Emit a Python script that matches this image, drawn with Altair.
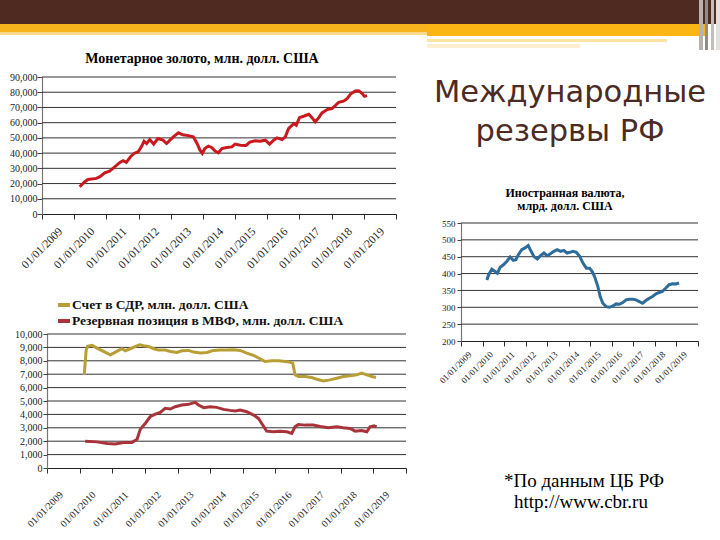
import altair as alt
import pandas as pd

SERIF = "Liberation Serif"
YEARS = [2009, 2010, 2011, 2012, 2013, 2014, 2015, 2016, 2017, 2018, 2019, 2020]

# --- Монетарное золото, млн. долл. США ---
GOLD_T = [2010.17, 2010.33, 2010.43, 2010.69, 2010.80, 2010.95, 2011.10, 2011.26, 2011.42, 2011.52,
          2011.62, 2011.75, 2011.86, 2011.99, 2012.10, 2012.17, 2012.25, 2012.35, 2012.47, 2012.60,
          2012.76, 2012.87, 2013.00, 2013.08, 2013.24, 2013.37, 2013.55, 2013.70, 2013.81, 2013.91,
          2013.98, 2014.06, 2014.17, 2014.27, 2014.38, 2014.48, 2014.59, 2014.74, 2014.90, 2015.00,
          2015.16, 2015.34, 2015.46, 2015.62, 2015.78, 2015.94, 2016.07, 2016.20, 2016.30, 2016.46,
          2016.56, 2016.66, 2016.82, 2016.90, 2017.00, 2017.13, 2017.29, 2017.39, 2017.49, 2017.60,
          2017.70, 2017.86, 2018.01, 2018.12, 2018.22, 2018.37, 2018.48, 2018.60, 2018.74, 2018.84,
          2018.95, 2019.02, 2019.10]
GOLD_V = [17900, 21200, 22700, 23400, 24500, 27100, 28200, 31000, 33900, 35000,
          33900, 37600, 39800, 40900, 44600, 47800, 46300, 48900, 45900, 49600,
          48500, 46300, 49000, 50700, 53300, 52000, 51500, 50700, 46700, 41900,
          39800, 43000, 44600, 43700, 41300, 40200, 43000, 43700, 44100, 45900,
          45200, 45000, 47200, 48100, 47800, 48500, 45900, 48500, 50000, 48900,
          50700, 56100, 59400, 58300, 63300, 64200, 65500, 63300, 60500, 63300,
          66400, 68600, 69300, 71400, 73400, 74100, 75800, 79100, 80800, 81000,
          79100, 77300, 77800]
GOLD_TICKS = [0, 10000, 20000, 30000, 40000, 50000, 60000, 70000, 80000, 90000]

# --- Иностранная валюта, млрд. долл. США ---
FX_T = [2010.20, 2010.28, 2010.43, 2010.58, 2010.69, 2010.82, 2010.97, 2011.12, 2011.28, 2011.43,
        2011.55, 2011.66, 2011.82, 2011.97, 2012.12, 2012.23, 2012.38, 2012.54, 2012.69, 2012.85,
        2013.00, 2013.15, 2013.31, 2013.46, 2013.62, 2013.77, 2013.92, 2014.05, 2014.20, 2014.35,
        2014.51, 2014.66, 2014.82, 2014.97, 2015.09, 2015.20, 2015.35, 2015.46, 2015.58, 2015.74,
        2015.89, 2016.05, 2016.20, 2016.35, 2016.51, 2016.66, 2016.82, 2016.97, 2017.12, 2017.28,
        2017.43, 2017.58, 2017.74, 2017.89, 2018.05, 2018.20, 2018.35, 2018.51, 2018.66, 2018.82,
        2018.97, 2019.12]
FX_V = [381, 396, 413, 406, 401, 419, 426, 436, 449, 439,
        441, 456, 471, 476, 483, 469, 451, 443, 453, 461,
        453, 459, 466, 471, 466, 469, 461, 463, 466, 463,
        451, 431, 416, 416, 406, 391, 362, 332, 312, 302,
        300, 304, 310, 309, 314, 322, 324, 324, 322, 317,
        312, 320, 327, 332, 340, 344, 347, 357, 367, 370,
        369, 372]
FX_TICKS = [200, 250, 300, 350, 400, 450, 500, 550]

# --- Счет в СДР / Резервная позиция в МВФ, млн. долл. США ---
SERIES = ["Счет в СДР, млн. долл. США", "Резервная позиция в МВФ, млн. долл. США"]
SDR_T = [2010.14, 2010.20, 2010.24, 2010.38, 2010.53, 2010.73, 2010.94, 2011.04, 2011.19, 2011.30,
         2011.40, 2011.55, 2011.70, 2011.84, 2011.96, 2012.11, 2012.27, 2012.42, 2012.62, 2012.78,
         2012.98, 2013.13, 2013.34, 2013.49, 2013.69, 2013.90, 2014.10, 2014.31, 2014.51, 2014.71,
         2014.92, 2015.12, 2015.33, 2015.53, 2015.68, 2015.89, 2016.09, 2016.30, 2016.43, 2016.53,
         2016.60, 2016.70, 2016.91, 2017.11, 2017.27, 2017.47, 2017.67, 2017.88, 2018.08, 2018.29,
         2018.49, 2018.64, 2018.80, 2018.95, 2019.08]
SDR_V = [6950, 8800, 9075, 9150, 8950, 8700, 8450, 8575, 8775, 8900,
         8750, 8900, 9050, 9200, 9125, 9075, 8900, 8800, 8800, 8700,
         8625, 8750, 8775, 8650, 8575, 8625, 8775, 8800, 8800, 8825,
         8775, 8575, 8400, 8150, 7950, 8000, 8000, 7950, 7900, 7825,
         6950, 6825, 6825, 6750, 6625, 6500, 6575, 6700, 6825, 6875,
         6950, 7075, 6950, 6825, 6750]
IMF_T = [2010.17, 2010.53, 2010.84, 2011.09, 2011.35, 2011.60, 2011.76, 2011.86, 2012.01, 2012.16,
         2012.32, 2012.47, 2012.62, 2012.78, 2012.93, 2013.13, 2013.34, 2013.54, 2013.64, 2013.80,
         2014.00, 2014.20, 2014.41, 2014.61, 2014.77, 2014.92, 2015.12, 2015.33, 2015.48, 2015.58,
         2015.73, 2015.94, 2016.14, 2016.35, 2016.50, 2016.60, 2016.70, 2016.91, 2017.16, 2017.37,
         2017.62, 2017.88, 2018.08, 2018.29, 2018.44, 2018.64, 2018.80, 2018.90, 2019.02, 2019.10]
IMF_V = [2000, 1950, 1825, 1800, 1900, 1900, 2150, 2900, 3325, 3825,
         4025, 4150, 4450, 4400, 4575, 4700, 4750, 4900, 4700, 4500,
         4575, 4525, 4375, 4300, 4250, 4325, 4200, 3950, 3700, 3325,
         2750, 2700, 2750, 2700, 2575, 3075, 3250, 3200, 3200, 3100,
         3000, 3075, 3000, 2950, 2750, 2800, 2700, 3075, 3150, 3075]
SDR_TICKS = [0, 1000, 2000, 3000, 4000, 5000, 6000, 7000, 8000, 9000, 10000]

TITLE_1 = "Монетарное золото, млн. долл. США"
TITLE_2 = ["Иностранная валюта,", "млрд. долл. США"]
HEADING = ["Международные", "резервы РФ"]
NOTE = ["*По данным ЦБ РФ", "http://www.cbr.ru"]

LABEL_EXPR = "datum.value >= 2020 ? '' : '01/01/' + datum.value"
dummy = pd.DataFrame({"d": [0]})


def x_axis(offset, size, pad, loff):
    return alt.Axis(orient="bottom", offset=offset, values=YEARS, labelExpr=LABEL_EXPR,
                    labelAngle=-45, labelAlign="center", labelBaseline="middle",
                    labelPadding=pad, labelOffset=loff, labelFont=SERIF, labelFontSize=size,
                    labelColor="#222", tickSize=5, tickColor="#333", domainColor="#222",
                    grid=False, title=None, labelOverlap=False, labelFlush=False, labelBound=False)


def y_axis(offset, values, size, fmt, pad, tsize):
    return alt.Axis(orient="left", offset=offset, values=values, format=fmt,
                    labelFont=SERIF, labelFontSize=size, labelColor="#222", labelPadding=pad,
                    tickSize=tsize, tickColor="#444", domainColor="#777", domainWidth=1.2,
                    grid=False, title=None, labelOverlap=False, labelFlush=False, labelBound=False)


def panel(xr, yr, ydom, ticks, xax, yax, line_layers):
    xs = alt.Scale(domain=[2009, 2020], range=xr, nice=False, zero=False)
    ys = alt.Scale(domain=ydom, range=yr, nice=False, zero=False)
    grid = alt.Chart(pd.DataFrame({"v": ticks[1:]})).mark_rule(color="#333333", strokeWidth=1).encode(
        y=alt.Y("v:Q", scale=ys, axis=yax),
        x=alt.XDatum(2009, type="quantitative", scale=xs, axis=xax),
        x2=alt.X2Datum(2020),
    )
    lines = [f(xs, ys, xax, yax) for f in line_layers]
    return alt.layer(grid, *lines)


# Chart 1
gold_df = pd.DataFrame({"t": GOLD_T, "v": GOLD_V})
def gold_line(xs, ys, xax, yax):
    return alt.Chart(gold_df).mark_line(color="#c9191f", strokeWidth=3).encode(
        x=alt.X("t:Q", scale=xs, axis=xax), y=alt.Y("v:Q", scale=ys, axis=yax))

c1 = panel([42, 396], [214, 77], [0, 90000], GOLD_TICKS,
           x_axis(-326, 11.5, 29, 0), y_axis(-42, GOLD_TICKS, 10, ",.0f", 0, 5), [gold_line])

# Chart 2
fx_df = pd.DataFrame({"t": FX_T, "v": FX_V})
def fx_line(xs, ys, xax, yax):
    return alt.Chart(fx_df).mark_line(color="#2d6c9b", strokeWidth=3).encode(
        x=alt.X("t:Q", scale=xs, axis=xax), y=alt.Y("v:Q", scale=ys, axis=yax))

c2 = panel([461, 698], [341, 223], [200, 550], FX_TICKS,
           x_axis(-199, 9, 21, -6), y_axis(-461, FX_TICKS, 9, "d", 2, 4), [fx_line])

# Chart 3
sdr_df = pd.concat([
    pd.DataFrame({"t": SDR_T, "v": SDR_V, "s": SERIES[0]}),
    pd.DataFrame({"t": IMF_T, "v": IMF_V, "s": SERIES[1]}),
])
def sdr_lines(xs, ys, xax, yax):
    return alt.Chart(sdr_df).mark_line(strokeWidth=3).encode(
        x=alt.X("t:Q", scale=xs, axis=xax), y=alt.Y("v:Q", scale=ys, axis=yax),
        color=alt.Color("s:N", scale=alt.Scale(domain=SERIES, range=["#b89f35", "#a8333b"]),
                        legend=alt.Legend(orient="none", legendX=56, legendY=297, title=None,
                                          symbolType="stroke", symbolSize=144, symbolStrokeWidth=4,
                                          labelFont=SERIF, labelFontSize=13.5, labelFontWeight="bold",
                                          labelColor="#111", labelOffset=0, rowPadding=-3, padding=0,
                                          labelLimit=0)),
        detail="s:N")

c3 = panel([47, 406], [468, 334], [0, 10000], SDR_TICKS,
           x_axis(-72, 10, 36, -2), y_axis(-47, SDR_TICKS, 10, ",.0f", 1, 4), [sdr_lines])


def rect(x0, x1, y0, y1, color):
    return alt.Chart(dummy).mark_rect(color=color).encode(
        x=alt.value(x0), x2=alt.value(x1), y=alt.value(y0), y2=alt.value(y1))


def text(s, x, y, size, font, color="#000", weight="normal", align="center"):
    return alt.Chart(dummy).mark_text(text=s, font=font, fontSize=size, fontWeight=weight,
                                      color=color, align=align, baseline="alphabetic").encode(
        x=alt.value(x), y=alt.value(y))


deco = [
    rect(0, 720, 0, 24, "#4f2a21"),
    rect(0, 427, 24, 32, "#f7b41d"),
    rect(0, 427, 32, 35, "#fcd98a"),
    rect(427, 705, 24, 36, "#fbb515"),
    rect(427, 667, 39, 42, "#fde3a4"),
    rect(427, 580, 44, 48, "#fdefcf"),
    rect(699, 703, 0, 50, "#b9b1ad"),
    rect(705, 708, 0, 50, "#948b88"),
    rect(711, 714, 0, 50, "#c3bcb9"),
    rect(716, 720, 0, 50, "#e3dfdd"),
    text(TITLE_1, 202, 63, 14, SERIF, weight="bold"),
    text(TITLE_2[0], 565, 197, 12, SERIF, weight="bold"),
    text(TITLE_2[1], 565, 210, 12, SERIF, weight="bold"),
    text(HEADING[0], 570, 102, 30.5, "DejaVu Sans", color="#4b2b24"),
    text(HEADING[1], 570, 141, 30.5, "DejaVu Sans", color="#4b2b24"),
    text(NOTE[0], 584, 487, 19, SERIF),
    text(NOTE[1], 581, 508, 19, SERIF),
]

chart = alt.layer(*deco, c1, c2, c3).resolve_scale(
    x="independent", y="independent", color="independent"
).resolve_axis(x="independent", y="independent").resolve_legend(color="independent").properties(
    width=720, height=540, autosize=alt.AutoSizeParams(type="none"), padding=0, background="white"
).configure_view(stroke=None)

chart.save("out.html", embed_options={"renderer": "svg", "actions": False})
